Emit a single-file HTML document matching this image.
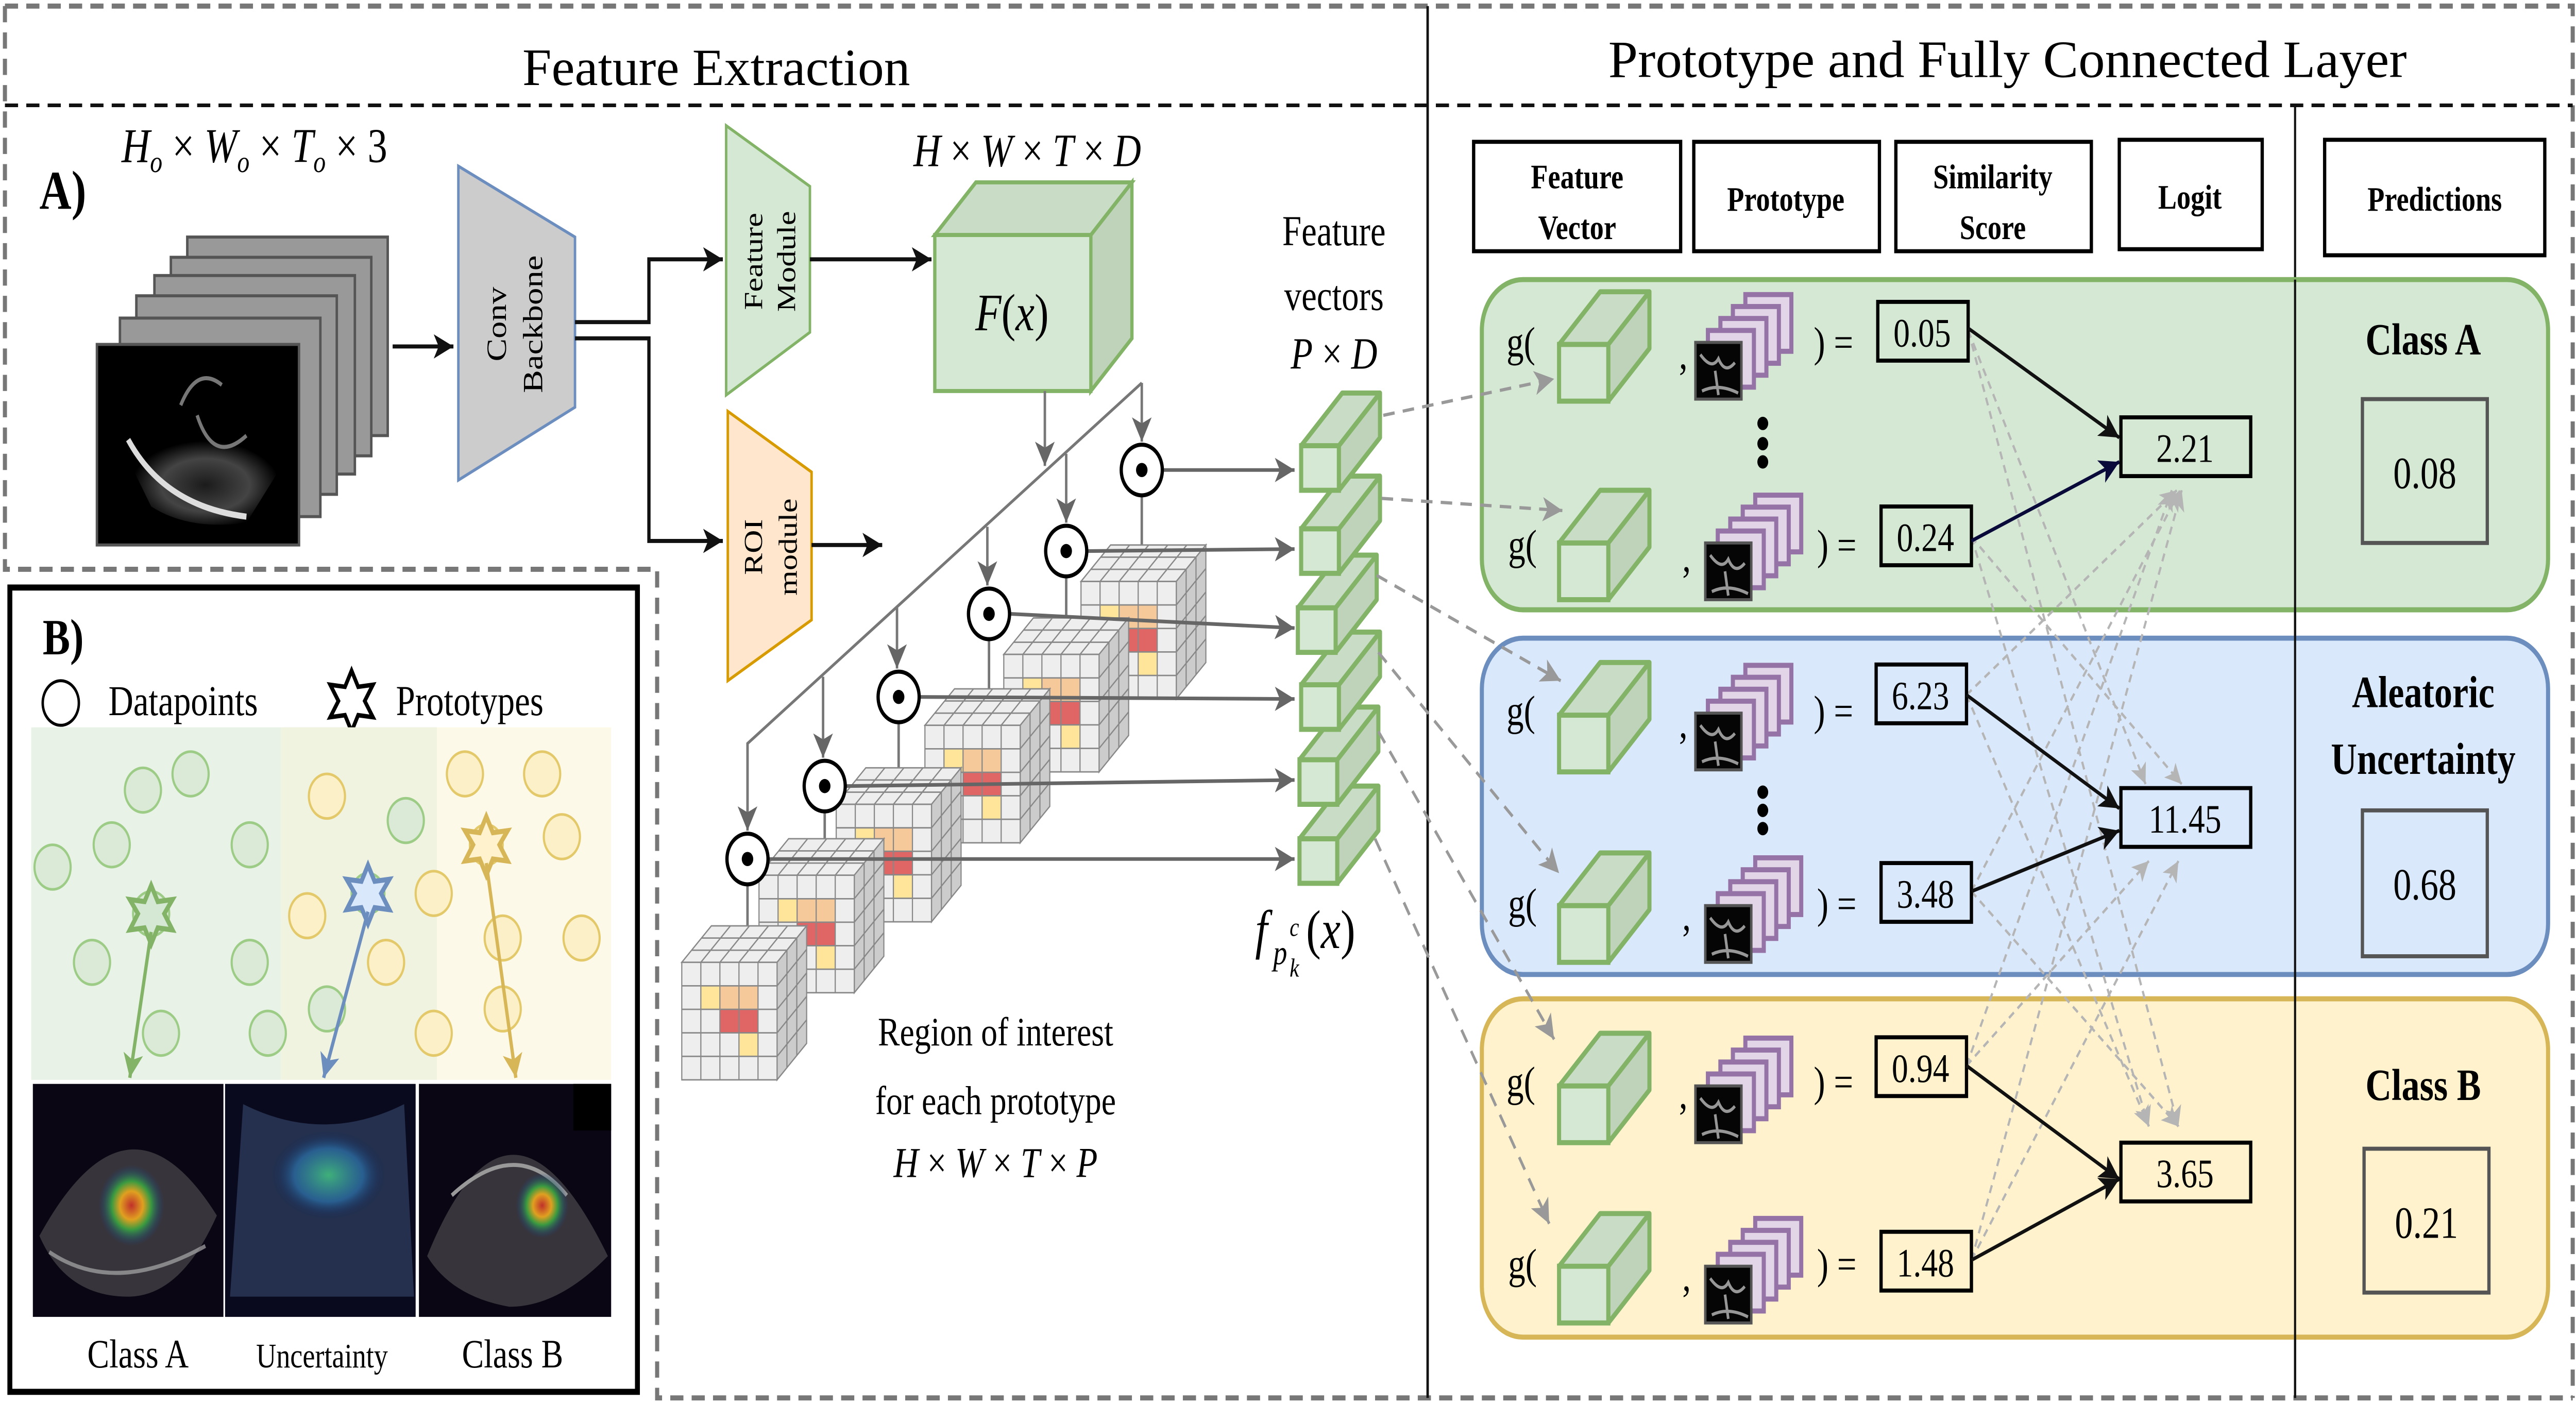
<!DOCTYPE html>
<html><head><meta charset="utf-8"><style>
html,body{margin:0;padding:0;background:#fff;width:100%;height:100%;overflow:hidden;}
svg{display:block;width:100vw;height:100vh;}
text{font-family:"Liberation Serif",serif;}
</style></head><body>
<svg viewBox="0 0 1568 693" preserveAspectRatio="none" xmlns="http://www.w3.org/2000/svg">
<defs>
<marker id="ab" markerUnits="userSpaceOnUse" markerWidth="14" markerHeight="12" refX="12" refY="6" orient="auto"><path d="M0,0 L12,6 L0,12 L3,6 Z" fill="#111"/></marker>
<marker id="an" markerUnits="userSpaceOnUse" markerWidth="14" markerHeight="12" refX="12" refY="6" orient="auto"><path d="M0,0 L12,6 L0,12 L3,6 Z" fill="#0a0a3a"/></marker>
<marker id="ag" markerUnits="userSpaceOnUse" markerWidth="14" markerHeight="12" refX="12" refY="6" orient="auto"><path d="M0,0 L12,6 L0,12 L3,6 Z" fill="#666"/></marker>
<marker id="ad" markerUnits="userSpaceOnUse" markerWidth="14" markerHeight="12" refX="12" refY="6" orient="auto"><path d="M0,0 L12,6 L0,12 L3,6 Z" fill="#999"/></marker>
<marker id="al" markerUnits="userSpaceOnUse" markerWidth="12" markerHeight="10" refX="10" refY="5" orient="auto"><path d="M0,0 L10,5 L0,10 L2.5,5 Z" fill="#b5b5b5"/></marker>
<marker id="agr" markerUnits="userSpaceOnUse" markerWidth="14" markerHeight="12" refX="12" refY="6" orient="auto"><path d="M0,0 L12,6 L0,12 L3,6 Z" fill="#82b366"/></marker>
<marker id="abl" markerUnits="userSpaceOnUse" markerWidth="14" markerHeight="12" refX="12" refY="6" orient="auto"><path d="M0,0 L12,6 L0,12 L3,6 Z" fill="#6c8ebf"/></marker>
<marker id="ay" markerUnits="userSpaceOnUse" markerWidth="14" markerHeight="12" refX="12" refY="6" orient="auto"><path d="M0,0 L12,6 L0,12 L3,6 Z" fill="#d6b656"/></marker>
<radialGradient id="us" cx="0.5" cy="0.55" r="0.5"><stop offset="0" stop-color="#222"/><stop offset="0.6" stop-color="#555"/><stop offset="1" stop-color="#000"/></radialGradient>
<radialGradient id="heat" cx="0.5" cy="0.5" r="0.5"><stop offset="0" stop-color="#c0302a"/><stop offset="0.35" stop-color="#e0a020"/><stop offset="0.6" stop-color="#3a9a40"/><stop offset="1" stop-color="#1a3a8a" stop-opacity="0"/></radialGradient>
<radialGradient id="heat2" cx="0.5" cy="0.5" r="0.5"><stop offset="0" stop-color="#3fb07a"/><stop offset="0.6" stop-color="#2a6aa0" stop-opacity="0.8"/><stop offset="1" stop-color="#102050" stop-opacity="0"/></radialGradient>
<g id="gc">
<rect x="0" y="0" width="30" height="28" fill="#d5e8d4" stroke="#82b366" stroke-width="2.5"/>
<polygon points="0,0 25,-26 55,-26 30,0" fill="#c9dcc6" stroke="#82b366" stroke-width="2.5" stroke-linejoin="round"/>
<polygon points="30,0 55,-26 55,2 30,28" fill="#bfd3bb" stroke="#82b366" stroke-width="2.5" stroke-linejoin="round"/>
</g>
<g id="ps">
<rect x="30.4" y="-23.6" width="28" height="28" fill="#e1d5e7" stroke="#9673a6" stroke-width="2.5"/>
<rect x="22.8" y="-17.7" width="28" height="28" fill="#e1d5e7" stroke="#9673a6" stroke-width="2.5"/>
<rect x="15.2" y="-11.8" width="28" height="28" fill="#e1d5e7" stroke="#9673a6" stroke-width="2.5"/>
<rect x="7.6" y="-5.9" width="28" height="28" fill="#e1d5e7" stroke="#9673a6" stroke-width="2.5"/>
<rect x="0" y="0" width="28" height="28" fill="#050505" stroke="#555" stroke-width="1.5"/>
<path d="M3,6 Q10,14 14,8 Q18,16 24,10 M12,14 L14,26 M4,24 Q14,20 26,25" stroke="#bbb" stroke-width="1.6" fill="none" opacity="0.8"/>
</g>
<g id="fv">
<rect x="0" y="0" width="23" height="22" fill="#d5e8d4" stroke="#82b366" stroke-width="2.5"/>
<polygon points="0,0 25,-26 48,-26 23,0" fill="#c9dcc6" stroke="#82b366" stroke-width="2.5" stroke-linejoin="round"/>
<polygon points="23,0 48,-26 48,-4 23,22" fill="#bfd3bb" stroke="#82b366" stroke-width="2.5" stroke-linejoin="round"/>
</g>
<g id="vc">
<polygon points="0,0 18,-18 76,-18 58,0" fill="#eee" stroke="#888" stroke-width="0.7"/>
<polygon points="58,0 76,-18 76,40 58,58" fill="#ccc" stroke="#888" stroke-width="0.7"/>
<rect x="0" y="0" width="58" height="58" fill="#eee" stroke="#888" stroke-width="0.7"/>
<rect x="11.6" y="11.6" width="11.6" height="11.6" fill="#ffe599"/>
<rect x="23.2" y="11.6" width="23.2" height="11.6" fill="#f5c99a"/>
<rect x="23.2" y="23.2" width="23.2" height="11.6" fill="#e06666"/>
<rect x="34.8" y="34.8" width="11.6" height="11.6" fill="#ffe599"/>
<path d="M11.6,0V58M23.2,0V58M34.8,0V58M46.4,0V58M0,11.6H58M0,23.2H58M0,34.8H58M0,46.4H58" stroke="#888" stroke-width="0.7"/>
<path d="M6,-6H64M12,-12H70M11.6,0L29.6,-18M23.2,0L41.2,-18M34.8,0L52.8,-18M46.4,0L64.4,-18" stroke="#888" stroke-width="0.7"/>
<path d="M64,-6V52M70,-12V46M58,11.6L76,-6.4M58,23.2L76,5.2M58,34.8L76,16.8M58,46.4L76,28.4" stroke="#888" stroke-width="0.7"/>
</g>
<g id="od"><circle r="12.5" fill="#fff" stroke="#000" stroke-width="2"/><circle r="3.5" fill="#000"/></g>
</defs>

<path d="M3,3 H1566 V690 M3,3 V281 H400 V690 H1566" fill="none" stroke="#777" stroke-width="2.5" stroke-dasharray="8 5"/>
<line x1="3" y1="52" x2="1566" y2="52" stroke="#111" stroke-width="1.8" stroke-dasharray="8 5"/>
<line x1="869" y1="3" x2="869" y2="690" stroke="#111" stroke-width="1.5"/>
<line x1="1397" y1="52" x2="1397" y2="690" stroke="#111" stroke-width="1.3"/>
<text x="436" y="42" font-size="26" text-anchor="middle" textLength="236" lengthAdjust="spacingAndGlyphs">Feature Extraction</text>
<text x="1222" y="38" font-size="26" text-anchor="middle" textLength="486" lengthAdjust="spacingAndGlyphs">Prototype and Fully Connected  Layer</text>

<text x="24" y="103" font-size="27" font-weight="bold">A)</text>
<text x="74" y="80" font-size="24" font-style="italic">H<tspan font-size="15" dy="5">o</tspan><tspan dy="-5" font-style="normal"> × </tspan>W<tspan font-size="15" dy="5">o</tspan><tspan dy="-5" font-style="normal"> × </tspan>T<tspan font-size="15" dy="5">o</tspan><tspan dy="-5" font-style="normal"> × 3</tspan></text>
<g fill="#999" stroke="#555" stroke-width="1.5">
<rect x="114" y="117" width="122" height="98"/>
<rect x="104" y="127" width="122" height="98"/>
<rect x="94" y="136" width="122" height="98"/>
<rect x="83" y="146" width="122" height="98"/>
<rect x="73" y="157" width="122" height="98"/>
</g>
<rect x="59" y="170" width="123" height="99" fill="#000" stroke="#555" stroke-width="1.5"/>
<path d="M80,230 Q120,200 170,232 L150,258 Q115,262 92,250 Z" fill="url(#us)" opacity="0.8"/>
<path d="M78,217 Q100,250 150,255" stroke="#ddd" stroke-width="3" fill="none"/>
<path d="M110,200 Q120,180 135,190 M120,205 Q130,230 150,215" stroke="#777" stroke-width="2" fill="none"/>
<line x1="239" y1="171" x2="276" y2="171" stroke="#111" stroke-width="2" marker-end="url(#ab)"/>

<polygon points="279,82 350,117 350,201 279,237" fill="#ccc" stroke="#6c8ebf" stroke-width="1.5"/>
<text transform="translate(308,160) rotate(-90)" font-size="17" text-anchor="middle">Conv</text>
<text transform="translate(330,160) rotate(-90)" font-size="17" text-anchor="middle">Backbone</text>
<path d="M350,159 H395 V128 H440" fill="none" stroke="#111" stroke-width="2" marker-end="url(#ab)"/>
<path d="M350,167 H395 V267 H440" fill="none" stroke="#111" stroke-width="2" marker-end="url(#ab)"/>
<polygon points="442,62 493,92 493,164 442,195" fill="#d5e8d4" stroke="#82b366" stroke-width="1.5"/>
<text transform="translate(464,129) rotate(-90)" font-size="16" text-anchor="middle">Feature</text>
<text transform="translate(484,129) rotate(-90)" font-size="16" text-anchor="middle">Module</text>
<line x1="493" y1="128" x2="567" y2="128" stroke="#111" stroke-width="2" marker-end="url(#ab)"/>
<polygon points="443,203 494,233 494,306 443,336" fill="#ffe6cc" stroke="#d79b00" stroke-width="1.5"/>
<text transform="translate(464,270) rotate(-90)" font-size="16" text-anchor="middle">ROI</text>
<text transform="translate(485,270) rotate(-90)" font-size="16" text-anchor="middle">module</text>
<line x1="494" y1="269" x2="537" y2="269" stroke="#111" stroke-width="2" marker-end="url(#ab)"/>

<text x="556" y="82" font-size="23" font-style="italic">H<tspan font-style="normal"> × </tspan>W<tspan font-style="normal"> × </tspan>T<tspan font-style="normal"> × </tspan>D</text>
<polygon points="569,116 594,90 689,90 664,116" fill="#c9dcc6" stroke="#82b366" stroke-width="2"/>
<polygon points="664,116 689,90 689,167 664,193" fill="#bfd3bb" stroke="#82b366" stroke-width="2"/>
<rect x="569" y="116" width="95" height="77" fill="#d5e8d4" stroke="#82b366" stroke-width="2"/>
<text x="616" y="163" font-size="26" font-style="italic" text-anchor="middle">F<tspan font-style="normal">(</tspan>x<tspan font-style="normal">)</tspan></text>

<text x="812" y="121" font-size="21" text-anchor="middle">Feature</text>
<text x="812" y="153" font-size="21" text-anchor="middle">vectors</text>
<text x="812" y="182" font-size="22" font-style="italic" text-anchor="middle">P<tspan font-style="normal"> × </tspan>D</text>

<g stroke="#777" stroke-width="1.5" fill="none">
<polyline points="455,409 455,367 695,189"/>
<line x1="636" y1="193" x2="636" y2="230" marker-end="url(#ag)"/>
<line x1="695" y1="189" x2="695" y2="218" marker-end="url(#ag)"/>
<line x1="649" y1="224" x2="649" y2="258" marker-end="url(#ag)"/>
<line x1="601" y1="260" x2="601" y2="289" marker-end="url(#ag)"/>
<line x1="546" y1="300" x2="546" y2="330" marker-end="url(#ag)"/>
<line x1="501" y1="334" x2="501" y2="374" marker-end="url(#ag)"/>
<line x1="455" y1="367" x2="455" y2="410" marker-end="url(#ag)"/>
<line x1="695" y1="232" x2="695" y2="300"/>
<line x1="649" y1="272" x2="649" y2="340"/>
<line x1="602" y1="303" x2="602" y2="380"/>
<line x1="547" y1="344" x2="547" y2="420"/>
<line x1="502" y1="388" x2="502" y2="455"/>
<line x1="455" y1="424" x2="455" y2="490"/>
</g>
<use href="#vc" x="658" y="287"/>
<use href="#vc" x="611" y="323"/>
<use href="#vc" x="563" y="358"/>
<use href="#vc" x="509" y="397"/>
<use href="#vc" x="462" y="432"/>
<use href="#vc" x="415" y="475"/>
<g stroke="#666" stroke-width="1.8" fill="none">
<line x1="708" y1="232" x2="788" y2="232" marker-end="url(#ag)"/>
<line x1="662" y1="272" x2="788" y2="271" marker-end="url(#ag)"/>
<line x1="615" y1="303" x2="788" y2="310" marker-end="url(#ag)"/>
<line x1="560" y1="344" x2="788" y2="345" marker-end="url(#ag)"/>
<line x1="515" y1="388" x2="788" y2="385" marker-end="url(#ag)"/>
<line x1="468" y1="424" x2="788" y2="424" marker-end="url(#ag)"/>
</g>
<use href="#od" x="695" y="232"/>
<use href="#od" x="649" y="272"/>
<use href="#od" x="602" y="303"/>
<use href="#od" x="547" y="344"/>
<use href="#od" x="502" y="388"/>
<use href="#od" x="455" y="424"/>
<use href="#fv" x="791" y="414"/>
<use href="#fv" x="791" y="375"/>
<use href="#fv" x="792" y="338"/>
<use href="#fv" x="790" y="300"/>
<use href="#fv" x="792" y="261"/>
<use href="#fv" x="792" y="220"/>
<text x="764" y="468" font-size="27" font-style="italic">f</text>
<text x="775" y="476" font-size="17" font-style="italic">p</text>
<text x="785" y="462" font-size="13" font-style="italic">c</text>
<text x="785" y="482" font-size="13" font-style="italic">k</text>
<text x="795" y="468" font-size="27"><tspan>(</tspan><tspan font-style="italic">x</tspan><tspan>)</tspan></text>
<text x="606" y="516" font-size="20" text-anchor="middle">Region of interest</text>
<text x="606" y="550" font-size="20" text-anchor="middle">for each prototype</text>
<text x="606" y="581" font-size="21" font-style="italic" text-anchor="middle">H<tspan font-style="normal"> × </tspan>W<tspan font-style="normal"> × </tspan>T<tspan font-style="normal"> × </tspan>P</text>

<rect x="6" y="290" width="382" height="397" fill="#fff" stroke="#000" stroke-width="3"/>
<text x="26" y="323" font-size="25" font-weight="bold">B)</text>
<circle cx="37" cy="347" r="11" fill="none" stroke="#000" stroke-width="1.5"/>
<text x="66" y="353" font-size="21">Datapoints</text>
<polygon points="214,331 218,339 227,338 222,346 227,354 218,353 214,361 210,353 201,354 206,346 201,338 210,339" fill="#fff" stroke="#000" stroke-width="2.2"/>
<text x="241" y="353" font-size="21">Prototypes</text>
<rect x="19" y="359" width="152" height="174" fill="#e8f2e6"/>
<rect x="171" y="359" width="95" height="174" fill="#f0f3e0"/>
<rect x="266" y="359" width="106" height="174" fill="#fdf9e9"/>
<g fill="#dbead6" stroke="#9ccc86" stroke-width="1.3">
<circle cx="116" cy="382" r="11"/><circle cx="87" cy="390" r="11"/><circle cx="68" cy="417" r="11"/><circle cx="32" cy="428" r="11"/><circle cx="152" cy="417" r="11"/><circle cx="56" cy="475" r="11"/><circle cx="152" cy="475" r="11"/><circle cx="98" cy="510" r="11"/><circle cx="163" cy="510" r="11"/><circle cx="247" cy="405" r="11"/><circle cx="199" cy="498" r="11"/><circle cx="92" cy="451" r="11"/>
</g>
<g fill="#fbf0c8" stroke="#e3c96a" stroke-width="1.3">
<circle cx="199" cy="393" r="11"/><circle cx="187" cy="452" r="11"/><circle cx="264" cy="441" r="11"/><circle cx="235" cy="475" r="11"/><circle cx="264" cy="510" r="11"/><circle cx="283" cy="382" r="11"/><circle cx="330" cy="382" r="11"/><circle cx="342" cy="413" r="11"/><circle cx="306" cy="463" r="11"/><circle cx="354" cy="463" r="11"/><circle cx="306" cy="498" r="11"/><circle cx="296" cy="417" r="10"/>
</g>
<circle cx="224" cy="441" r="10" fill="#d4e6cc" stroke="#9ccc86" stroke-width="1.3"/>
<polygon points="92,437 96,445 105,444 100,451 105,459 96,458 92,466 88,458 79,459 84,451 79,444 88,445" fill="#d5e8d4" stroke="#82b366" stroke-width="2.5"/>
<polygon points="224,427 228,435 237,434 232,441 237,449 228,448 224,456 220,448 211,449 216,441 211,434 220,435" fill="#dae8fc" stroke="#6c8ebf" stroke-width="2.5"/>
<polygon points="296,403 300,411 309,410 304,417 309,425 300,424 296,432 292,424 283,425 288,417 283,410 292,411" fill="#fff2cc" stroke="#d6b656" stroke-width="2.5"/>
<line x1="92" y1="460" x2="79" y2="532" stroke="#82b366" stroke-width="2" marker-end="url(#agr)"/>
<line x1="224" y1="450" x2="197" y2="532" stroke="#6c8ebf" stroke-width="2" marker-end="url(#abl)"/>
<line x1="296" y1="426" x2="314" y2="532" stroke="#d6b656" stroke-width="2" marker-end="url(#ay)"/>
<rect x="20" y="535" width="116" height="115" fill="#0a0614"/>
<path d="M24,610 Q78,530 132,600 Q110,640 78,640 Q40,640 24,610 Z" fill="#555" opacity="0.6"/>
<path d="M30,618 Q70,640 125,615" stroke="#aaa" stroke-width="2" fill="none" opacity="0.7"/>
<ellipse cx="80" cy="595" rx="20" ry="20" fill="url(#heat)"/>
<rect x="137" y="535" width="116" height="115" fill="#0a0a1e"/>
<path d="M148,545 Q197,565 246,545 L252,640 L140,640 Z" fill="#2a3a5a" opacity="0.8"/>
<ellipse cx="200" cy="580" rx="35" ry="22" fill="url(#heat2)"/>
<rect x="255" y="535" width="117" height="115" fill="#0a0614"/>
<rect x="349" y="535" width="23" height="23" fill="#000"/>
<path d="M260,620 Q310,520 370,620 Q340,645 310,645 Q275,640 260,620 Z" fill="#555" opacity="0.6"/>
<path d="M275,590 Q315,560 345,590" stroke="#999" stroke-width="2" fill="none"/>
<ellipse cx="330" cy="595" rx="16" ry="16" fill="url(#heat)"/>
<text x="84" y="675" font-size="20" text-anchor="middle">Class A</text>
<text x="196" y="675" font-size="17" text-anchor="middle">Uncertainty</text>
<text x="312" y="675" font-size="20" text-anchor="middle">Class B</text>

<g fill="#fff" stroke="#000" stroke-width="2">
<rect x="897" y="70" width="126" height="54"/>
<rect x="1031" y="70" width="113" height="54"/>
<rect x="1154" y="70" width="119" height="54"/>
<rect x="1290" y="69" width="87" height="54"/>
<rect x="1415" y="69" width="134" height="57"/>
</g>
<g font-size="17" font-weight="bold" text-anchor="middle">
<text x="960" y="93">Feature</text><text x="960" y="118">Vector</text>
<text x="1087" y="104">Prototype</text>
<text x="1213" y="93">Similarity</text><text x="1213" y="118">Score</text>
<text x="1333" y="103">Logit</text>
<text x="1482" y="104">Predictions</text>
</g>

<rect x="902" y="138" width="649" height="163" rx="25" fill="#d5e8d4" stroke="#82b366" stroke-width="2.5"/>
<rect x="902" y="315" width="649" height="166" rx="25" fill="#dae8fc" stroke="#6c8ebf" stroke-width="2.5"/>
<rect x="902" y="493" width="649" height="167" rx="25" fill="#fff2cc" stroke="#d6b656" stroke-width="2.5"/>
<line x1="1397" y1="138" x2="1397" y2="690" stroke="#111" stroke-width="1.3"/>

<text x="1475" y="175" font-size="22" font-weight="bold" text-anchor="middle">Class A</text>
<rect x="1438" y="197" width="76" height="71" fill="none" stroke="#555" stroke-width="2"/>
<text x="1476" y="241" font-size="22" text-anchor="middle">0.08</text>
<text x="1475" y="349" font-size="22" font-weight="bold" text-anchor="middle">Aleatoric</text>
<text x="1475" y="382" font-size="22" font-weight="bold" text-anchor="middle">Uncertainty</text>
<rect x="1438" y="400" width="76" height="72" fill="none" stroke="#555" stroke-width="2"/>
<text x="1476" y="444" font-size="22" text-anchor="middle">0.68</text>
<text x="1475" y="543" font-size="22" font-weight="bold" text-anchor="middle">Class B</text>
<rect x="1439" y="567" width="76" height="71" fill="none" stroke="#555" stroke-width="2"/>
<text x="1477" y="611" font-size="22" text-anchor="middle">0.21</text>

<g stroke="#999" stroke-width="1.6" fill="none" stroke-dasharray="7 5">
<line x1="842" y1="205" x2="946" y2="187" marker-end="url(#ad)"/>
<line x1="841" y1="246" x2="951" y2="252" marker-end="url(#ad)"/>
<line x1="838" y1="284" x2="950" y2="336" marker-end="url(#ad)"/>
<line x1="839" y1="322" x2="949" y2="431" marker-end="url(#ad)"/>
<line x1="839" y1="361" x2="946" y2="513" marker-end="url(#ad)"/>
<line x1="837" y1="414" x2="943" y2="604" marker-end="url(#ad)"/>
</g>

<g font-size="21">
<text x="917" y="176">g(</text><use href="#gc" x="949" y="170"/>
<text x="1022" y="182">,</text><use href="#ps" x="1032" y="169"/>
<text x="1104" y="176">) =</text>
<text x="918" y="276">g(</text><use href="#gc" x="949" y="268"/>
<text x="1024" y="282">,</text><use href="#ps" x="1038" y="268"/>
<text x="1106" y="276">) =</text>
<text x="917" y="358">g(</text><use href="#gc" x="949" y="353"/>
<text x="1022" y="364">,</text><use href="#ps" x="1032" y="352"/>
<text x="1104" y="358">) =</text>
<text x="918" y="453">g(</text><use href="#gc" x="949" y="447"/>
<text x="1024" y="459">,</text><use href="#ps" x="1038" y="447"/>
<text x="1106" y="453">) =</text>
<text x="917" y="541">g(</text><use href="#gc" x="949" y="536"/>
<text x="1022" y="547">,</text><use href="#ps" x="1032" y="536"/>
<text x="1104" y="541">) =</text>
<text x="918" y="631">g(</text><use href="#gc" x="949" y="625"/>
<text x="1024" y="637">,</text><use href="#ps" x="1038" y="625"/>
<text x="1106" y="631">) =</text>
</g>
<g fill="#000">
<circle cx="1073" cy="209" r="3.3"/><circle cx="1073" cy="219" r="3.3"/><circle cx="1073" cy="228" r="3.3"/>
<circle cx="1073" cy="391" r="3.3"/><circle cx="1073" cy="400" r="3.3"/><circle cx="1073" cy="409" r="3.3"/>
</g>

<g stroke="#b5b5b5" stroke-width="1.3" fill="none" stroke-dasharray="4 3">
<line x1="1198" y1="163" x2="1306" y2="387" marker-end="url(#al)"/>
<line x1="1198" y1="163" x2="1326" y2="556" marker-end="url(#al)"/>
<line x1="1200" y1="265" x2="1328" y2="387" marker-end="url(#al)"/>
<line x1="1200" y1="265" x2="1308" y2="556" marker-end="url(#al)"/>
<line x1="1197" y1="343" x2="1325" y2="242" marker-end="url(#al)"/>
<line x1="1197" y1="343" x2="1308" y2="556" marker-end="url(#al)"/>
<line x1="1200" y1="440" x2="1327" y2="242" marker-end="url(#al)"/>
<line x1="1200" y1="440" x2="1326" y2="556" marker-end="url(#al)"/>
<line x1="1197" y1="526" x2="1322" y2="242" marker-end="url(#al)"/>
<line x1="1197" y1="526" x2="1308" y2="425" marker-end="url(#al)"/>
<line x1="1200" y1="622" x2="1328" y2="242" marker-end="url(#al)"/>
<line x1="1200" y1="622" x2="1326" y2="425" marker-end="url(#al)"/>
</g>

<g fill="none" stroke="#000" stroke-width="2">
<rect x="1143" y="149" width="55" height="29"/>
<rect x="1145" y="250" width="55" height="29"/>
<rect x="1142" y="328" width="55" height="29"/>
<rect x="1145" y="426" width="55" height="29"/>
<rect x="1142" y="512" width="55" height="29"/>
<rect x="1145" y="608" width="55" height="29"/>
<rect x="1291" y="206" width="79" height="29"/>
<rect x="1291" y="389" width="79" height="29"/>
<rect x="1291" y="564" width="79" height="29"/>
</g>
<g font-size="20" text-anchor="middle">
<text x="1170" y="171">0.05</text>
<text x="1172" y="272">0.24</text>
<text x="1169" y="350">6.23</text>
<text x="1172" y="448">3.48</text>
<text x="1169" y="534">0.94</text>
<text x="1172" y="630">1.48</text>
<text x="1330" y="228">2.21</text>
<text x="1330" y="411">11.45</text>
<text x="1330" y="586">3.65</text>
</g>
<g stroke-width="1.8" fill="none">
<line x1="1198" y1="162" x2="1290" y2="216" stroke="#111" marker-end="url(#ab)"/>
<line x1="1200" y1="267" x2="1290" y2="228" stroke="#0a0a3a" marker-end="url(#an)"/>
<line x1="1197" y1="343" x2="1290" y2="399" stroke="#111" marker-end="url(#ab)"/>
<line x1="1200" y1="440" x2="1290" y2="410" stroke="#111" marker-end="url(#ab)"/>
<line x1="1197" y1="526" x2="1290" y2="582" stroke="#111" marker-end="url(#ab)"/>
<line x1="1200" y1="622" x2="1290" y2="582" stroke="#111" marker-end="url(#ab)"/>
</g>
</svg>
</body></html>
